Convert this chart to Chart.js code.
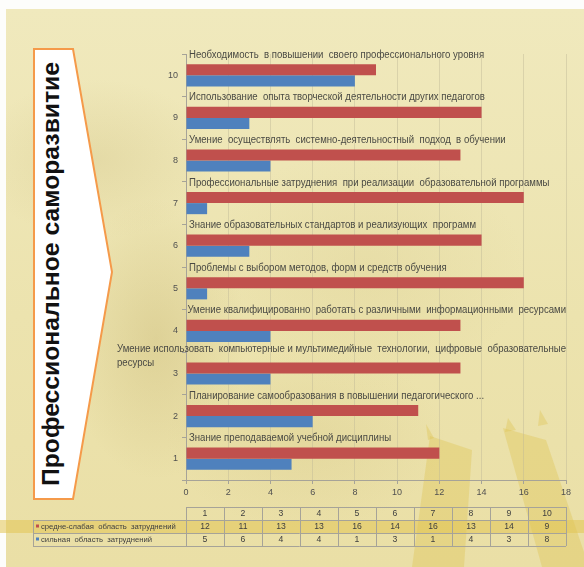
<!DOCTYPE html>
<html lang="ru">
<head>
    <meta charset="UTF-8">
    <title>Профессиональное саморазвитие</title>
    <script src="https://cdn.jsdelivr.net/npm/chart.js"></script>
    <style>
        html, body {
            margin: 0;
            padding: 0;
        }
        body {
            width: 584px;
            height: 567px;
            position: relative;
            overflow: hidden;
            background: #fdfdfb;
        }
        .fon {
            position: absolute;
            left: 6px;
            top: 9px;
            width: 578px;
            height: 558px;
            background:
                radial-gradient(ellipse 90px 140px at 150px 330px, rgba(196, 178, 110, 0.35), rgba(196, 178, 110, 0)),
                radial-gradient(ellipse 120px 80px at 90px 150px, rgba(200, 184, 120, 0.25), rgba(200, 184, 120, 0)),
                radial-gradient(ellipse 160px 120px at 360px 260px, rgba(205, 190, 120, 0.18), rgba(205, 190, 120, 0)),
                radial-gradient(ellipse 140px 90px at 300px 430px, rgba(200, 182, 110, 0.2), rgba(200, 182, 110, 0)),
                linear-gradient(180deg, #f0e9bd 0%, #ece3ae 55%, #eadfa6 100%);
        }
        svg.deco {
            position: absolute;
            left: 0;
            top: 0;
        }
        #grafico {
            position: absolute;
            left: 0;
            top: 0;
        }
    </style>
</head>
<body>

    <div class="fon"></div>

    <!-- фон: мост и стрелка с заголовком -->
    <svg class="deco" width="584" height="567">
        <g fill="rgba(222, 194, 78, 0.36)">
            <polygon points="430,436 472,450 464,567 412,567"/>
            <polygon points="426,424 434,438 428,440"/>
            <polygon points="503,428 546,440 584,552 584,567 542,567"/>
            <polygon points="508,418 516,430 505,432"/>
            <polygon points="540,410 548,424 538,426"/>
        </g>
        <polygon points="34,49 73,49 112,272 73,499 34,499" fill="#ffffff" stroke="#f59a4a" stroke-width="2"/>
        <text transform="translate(59,486) rotate(-90)" textLength="424" lengthAdjust="spacingAndGlyphs"
              font-family="Liberation Sans, Arial, sans-serif" font-weight="bold" font-size="23" fill="#111">Профессиональное саморазвитие</text>
    </svg>

    <canvas id="grafico" width="584" height="567"></canvas>

    <script>
        const categorias = ['1', '2', '3', '4', '5', '6', '7', '8', '9', '10'];
        const nomesCategorias = [
            ['Знание преподаваемой учебной дисциплины'],
            ['Планирование самообразования в повышении педагогического ...'],
            ['Умение использовать  компьютерные и мультимедийные  технологии,  цифровые  образовательные', 'ресурсы'],
            ['Умение квалифицированно  работать с различными  информационными  ресурсами'],
            ['Проблемы с выбором методов, форм и средств обучения'],
            ['Знание образовательных стандартов и реализующих  программ'],
            ['Профессиональные затруднения  при реализации  образовательной программы'],
            ['Умение  осуществлять  системно-деятельностный  подход  в обучении'],
            ['Использование  опыта творческой деятельности других педагогов'],
            ['Необходимость  в повышении  своего профессионального уровня']
        ];
        const nomesSeries = ['средне-слабая  область  затруднений', 'сильная  область  затруднений'];
        const mediaFraca = [12, 11, 13, 13, 16, 14, 16, 13, 14, 9];
        const forte = [5, 6, 4, 4, 1, 3, 1, 4, 3, 8];
        const eixoMax = 18;
        const eixoPasso = 2;

        const corVermelha = '#c0504d';
        const corAzul = '#4f81bd';
        const fonte = '"Liberation Sans", Arial, sans-serif';
        const estreito = 0.96; // compressão horizontal do texto

        function textoEstreito(c, txt, x, y) {
            c.save();
            c.translate(x, y);
            c.scale(estreito, 1);
            c.fillText(txt, 0, 0);
            c.restore();
        }

        // nomes das categorias acima de cada par de barras
        const rotulosCategorias = {
            id: 'rotulosCategorias',
            afterDatasetsDraw(chart) {
                const c = chart.ctx;
                const y = chart.scales.y;
                const area = chart.chartArea;
                const passo = Math.abs(y.getPixelForValue(1) - y.getPixelForValue(0));
                c.save();
                c.font = '10px ' + fonte;
                c.fillStyle = '#4a4a44';
                c.textBaseline = 'middle';
                nomesCategorias.forEach((linhas, i) => {
                    let topo = y.getPixelForValue(i) - passo / 2 + 1;
                    const largura = c.measureText(linhas[0]).width * estreito;
                    let x = area.left + 3;
                    if (x + largura > area.right) {
                        x = area.right - largura;
                    }
                    if (linhas.length > 1) {
                        topo -= 4;
                    }
                    linhas.forEach((l, k) => textoEstreito(c, l, x, topo + k * 14));
                });
                c.restore();
            }
        };

        // tabela de dados sob o eixo
        const tabelaDados = {
            id: 'tabelaDados',
            afterDraw(chart) {
                const c = chart.ctx;
                const area = chart.chartArea;
                const n = categorias.length;
                const col = (area.right - area.left) / n;
                const topo = area.bottom + 27;
                const alt = 13;
                const esquerda = 33;

                c.save();
                // faixa amarela da primeira série
                c.fillStyle = 'rgba(226, 196, 84, 0.55)';
                c.fillRect(0, topo + alt, 584, alt);

                c.strokeStyle = '#a6a398';
                c.lineWidth = 1;
                c.beginPath();
                c.moveTo(area.left, topo + 0.5);
                c.lineTo(area.right, topo + 0.5);
                for (let r = 1; r <= 3; r++) {
                    c.moveTo(esquerda, topo + r * alt + 0.5);
                    c.lineTo(area.right, topo + r * alt + 0.5);
                }
                c.moveTo(esquerda + 0.5, topo + alt);
                c.lineTo(esquerda + 0.5, topo + 3 * alt);
                for (let i = 0; i <= n; i++) {
                    const x = Math.round(area.left + i * col) + 0.5;
                    c.moveTo(x, topo);
                    c.lineTo(x, topo + 3 * alt);
                }
                c.stroke();

                c.fillStyle = '#404040';
                c.textBaseline = 'middle';
                c.textAlign = 'left';
                c.font = '9px ' + fonte;
                const linhasTab = [categorias, mediaFraca, forte];
                linhasTab.forEach((valores, r) => {
                    valores.forEach((v, i) => {
                        const txt = String(v);
                        const w = c.measureText(txt).width * estreito;
                        textoEstreito(c, txt, area.left + (i + 0.5) * col - w / 2, topo + r * alt + alt / 2 + 0.5);
                    });
                });

                // legenda dentro da tabela
                c.font = '8px ' + fonte;
                [corVermelha, corAzul].forEach((cor, r) => {
                    const yc = topo + (r + 1) * alt + alt / 2;
                    c.fillStyle = cor;
                    c.fillRect(esquerda + 3, yc - 2, 3, 3);
                    c.fillStyle = '#404040';
                    textoEstreito(c, nomesSeries[r], esquerda + 8, yc + 0.5);
                });
                c.restore();
            }
        };

        const ctx = document.getElementById('grafico').getContext('2d');
        const chart = new Chart(ctx, {
            type: 'bar',
            data: {
                labels: categorias,
                datasets: [{
                    label: nomesSeries[0],
                    data: mediaFraca,
                    backgroundColor: corVermelha,
                    borderWidth: 0
                }, {
                    label: nomesSeries[1],
                    data: forte,
                    backgroundColor: corAzul,
                    borderWidth: 0
                }]
            },
            options: {
                indexAxis: 'y',
                responsive: false,
                animation: false,
                devicePixelRatio: 1,
                barPercentage: 1,
                categoryPercentage: 0.52,
                layout: {
                    padding: { top: 54, right: 18, bottom: 0, left: 0 }
                },
                plugins: {
                    legend: { display: false },
                    tooltip: { enabled: false }
                },
                scales: {
                    x: {
                        min: 0,
                        max: eixoMax,
                        afterFit(scale) { scale.height = 87; },
                        ticks: {
                            stepSize: eixoPasso,
                            padding: 3,
                            color: '#505050',
                            font: { family: fonte, size: 9 }
                        },
                        grid: {
                            color: 'rgba(190, 184, 150, 0.45)',
                            tickColor: '#a6a398',
                            tickLength: 4
                        },
                        border: { color: '#a6a398' }
                    },
                    y: {
                        reverse: true,
                        afterFit(scale) { scale.width = 186; },
                        ticks: {
                            padding: 4,
                            color: '#505050',
                            font: { family: fonte, size: 9 }
                        },
                        grid: {
                            drawOnChartArea: false,
                            tickColor: '#a6a398',
                            tickLength: 4
                        },
                        border: { color: '#a6a398' }
                    }
                }
            },
            plugins: [rotulosCategorias, tabelaDados]
        });
    </script>

</body>
</html>
